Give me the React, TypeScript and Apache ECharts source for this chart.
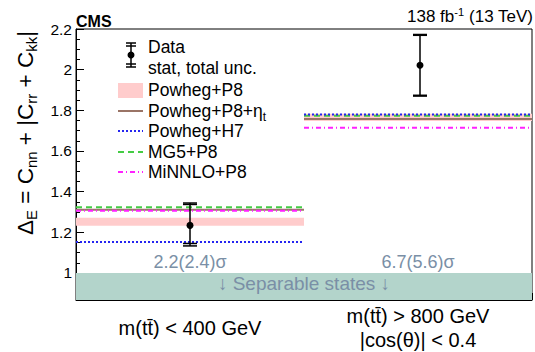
import React, { useEffect, useRef } from "react";
import * as echarts from "echarts";

const categories = ["m(tt\u0304) < 400 GeV", "m(tt\u0304) > 800 GeV\n|cos(θ)| < 0.4"];
const dataValues = [1.234, 2.022];
const statLow = [1.145, 1.874];
const statHigh = [1.337, 2.169];
const totalLow = [1.133, 1.87];
const totalHigh = [1.344, 2.173];
const powhegP8Low = [1.232, 1.747];
const powhegP8High = [1.272, 1.783];
const powhegP8Eta = [1.311, 1.757];
const powhegH7 = [1.152, 1.78];
const mg5P8 = [1.323, 1.773];
const minnloP8 = [1.306, 1.714];
const significance = ["2.2(2.4)σ", "6.7(5.6)σ"];
const significanceY = 1.054;
const separableThreshold = 1;
const separableLabelY = 0.946;
const yMin = 0.867;
const yMax = 2.2;
const yMajorTicks = [1, 1.2, 1.4, 1.6, 1.8, 2, 2.2];
const yMinorTicks = [0.9, 0.95, 1.05, 1.1, 1.15, 1.25, 1.3, 1.35, 1.45, 1.5, 1.55, 1.65, 1.7, 1.75, 1.85, 1.9, 1.95, 2.05, 2.1, 2.15];
const legendNames = ["Data", "stat, total unc.", "Powheg+P8", "Powheg+P8+{e|η}{s|t}", "Powheg+H7", "MG5+P8", "MiNNLO+P8"];

const FONT = "Liberation Sans, Arial, Helvetica, sans-serif";
const C_BAND = "#ffcccc";
const C_ETA = "#9a7466";
const C_H7 = "#2525f0";
const C_MG5 = "#44cc44";
const C_MIN = "#ff22ff";
const C_SEP = "#b3d4cb";
const C_SEPTXT = "#7a8fa6";

function modelLine(name: string, values: number[], color: string, dash: any, z: number) {
  return {
    type: "custom",
    name,
    z,
    data: values.map((v, i) => [i, v]),
    renderItem: (_p: any, api: any) => {
      const c = api.coord([api.value(0), api.value(1)]);
      const bw = api.size([1, 0])[0];
      return {
        type: "line",
        shape: { x1: c[0] - bw / 2, y1: c[1], x2: c[0] + bw / 2, y2: c[1] },
        style: { stroke: color, lineWidth: 2, lineDash: dash },
      };
    },
  };
}

export default function App() {
  const ref = useRef<HTMLDivElement>(null);
  useEffect(() => {
    if (!ref.current) return;
    const chart = echarts.init(ref.current, null, { renderer: "svg" });
    const legendX = 148;
    const rowsY = [47, 68, 90, 111, 131, 152, 172];
    const lx0 = 118;
    const lx1 = 143;
    const legendGraphics: any[] = [];
    legendNames.forEach((n, i) => {
      legendGraphics.push({
        type: "text",
        x: legendX,
        y: rowsY[i],
        style: {
          text: n,
          fontSize: 17.5,
          fontFamily: FONT,
          fill: "#000",
          verticalAlign: "middle",
          align: "left",
          rich: {
            e: { fontSize: 17.5, fontFamily: FONT },
            s: { fontSize: 12, fontFamily: FONT, padding: [11, 0, 0, 0] },
          },
        },
      });
    });
    legendGraphics.push(
      { type: "line", shape: { x1: 131, y1: 43, x2: 131, y2: 67 }, style: { stroke: "#000", lineWidth: 1.5 } },
      { type: "line", shape: { x1: 126, y1: 43, x2: 136, y2: 43 }, style: { stroke: "#000", lineWidth: 1.5 } },
      { type: "line", shape: { x1: 126, y1: 46, x2: 136, y2: 46 }, style: { stroke: "#000", lineWidth: 1.5 } },
      { type: "line", shape: { x1: 126, y1: 64, x2: 136, y2: 64 }, style: { stroke: "#000", lineWidth: 1.5 } },
      { type: "line", shape: { x1: 126, y1: 67, x2: 136, y2: 67 }, style: { stroke: "#000", lineWidth: 1.5 } },
      { type: "circle", shape: { cx: 131, cy: 55, r: 3.5 }, style: { fill: "#000" } },
      { type: "rect", shape: { x: lx0, y: 83, width: lx1 - lx0, height: 15 }, style: { fill: C_BAND } },
      { type: "line", shape: { x1: lx0, y1: 111, x2: lx1, y2: 111 }, style: { stroke: C_ETA, lineWidth: 2 } },
      { type: "line", shape: { x1: lx0, y1: 131, x2: lx1, y2: 131 }, style: { stroke: C_H7, lineWidth: 2, lineDash: [2, 2] } },
      { type: "line", shape: { x1: lx0, y1: 152, x2: lx1, y2: 152 }, style: { stroke: C_MG5, lineWidth: 2, lineDash: [6, 4] } },
      { type: "line", shape: { x1: lx0, y1: 172, x2: lx1, y2: 172 }, style: { stroke: C_MIN, lineWidth: 2, lineDash: [5, 3, 1, 3] } }
    );

    const option: any = {
      animation: false,
      backgroundColor: "#fff",
      grid: { left: 76, right: 3, top: 29, bottom: 52, show: true, borderColor: "#000", borderWidth: 1, backgroundColor: "transparent" },
      xAxis: {
        type: "category",
        data: categories,
        boundaryGap: true,
        axisLine: { show: true, lineStyle: { color: "#000", width: 1 } },
        axisTick: { show: true, inside: true, length: 7, lineStyle: { color: "#000" } },
        axisLabel: { color: "#000", fontSize: 20, fontFamily: FONT, margin: 28, verticalAlign: "middle", lineHeight: 24 },
        splitLine: { show: false },
      },
      yAxis: [
        {
          type: "value",
          min: yMin,
          max: yMax,
          axisLine: { show: true, lineStyle: { color: "#000" } },
          axisTick: { show: true, inside: true, length: 8, customValues: yMajorTicks, lineStyle: { color: "#000" } },
          axisLabel: { color: "#000", fontSize: 15.5, fontFamily: FONT, margin: 4, customValues: yMajorTicks },
          splitLine: { show: false },
        },
        {
          type: "value",
          min: yMin,
          max: yMax,
          position: "left",
          axisLine: { show: false },
          axisTick: { show: true, inside: true, length: 4, customValues: yMinorTicks, lineStyle: { color: "#000" } },
          axisLabel: { show: false },
          splitLine: { show: false },
        },
      ],
      series: [
        {
          type: "custom",
          name: "Separable states",
          z: 1,
          data: [[0, separableThreshold]],
          renderItem: (_p: any, api: any) => {
            const a = api.coord([0, api.value(1)]);
            const b = api.coord([1, yMin]);
            const bw = api.size([1, 0])[0];
            const x0 = a[0] - bw / 2;
            const lbl = api.coord([0, separableLabelY]);
            return {
              type: "group",
              children: [
                { type: "rect", shape: { x: x0, y: a[1], width: 2 * bw, height: b[1] - a[1] }, style: { fill: C_SEP } },
                {
                  type: "text",
                  x: (a[0] + b[0]) / 2,
                  y: lbl[1],
                  style: { text: "↓ Separable states ↓", fill: C_SEPTXT, fontSize: 19, fontFamily: FONT, align: "center", verticalAlign: "middle" },
                },
              ],
            };
          },
        },
        {
          type: "custom",
          name: "Powheg+P8",
          z: 2,
          data: powhegP8Low.map((v, i) => [i, v, powhegP8High[i]]),
          renderItem: (_p: any, api: any) => {
            const lo = api.coord([api.value(0), api.value(1)]);
            const hi = api.coord([api.value(0), api.value(2)]);
            const bw = api.size([1, 0])[0];
            return { type: "rect", shape: { x: lo[0] - bw / 2, y: hi[1], width: bw, height: lo[1] - hi[1] }, style: { fill: C_BAND } };
          },
        },
        modelLine("Powheg+P8+ηt", powhegP8Eta, C_ETA, "solid", 3),
        modelLine("MiNNLO+P8", minnloP8, C_MIN, [5, 3, 1, 3], 4),
        modelLine("MG5+P8", mg5P8, C_MG5, [6, 4], 5),
        modelLine("Powheg+H7", powhegH7, C_H7, [2, 2], 6),
        {
          type: "custom",
          name: "Significance",
          z: 7,
          data: significance.map((s, i) => [i, significanceY, s]),
          renderItem: (_p: any, api: any) => {
            const c = api.coord([api.value(0), api.value(1)]);
            return {
              type: "text",
              x: c[0],
              y: c[1],
              style: { text: significance[_p.dataIndex], fill: C_SEPTXT, fontSize: 18, fontFamily: FONT, align: "center", verticalAlign: "middle" },
            };
          },
        },
        {
          type: "custom",
          name: "Data",
          z: 10,
          data: dataValues.map((v, i) => [i, v, statLow[i], statHigh[i], totalLow[i], totalHigh[i]]),
          renderItem: (_p: any, api: any) => {
            const i = api.value(0);
            const c = api.coord([i, api.value(1)]);
            const sl = api.coord([i, api.value(2)]);
            const sh = api.coord([i, api.value(3)]);
            const tl = api.coord([i, api.value(4)]);
            const th = api.coord([i, api.value(5)]);
            const x = c[0] + (i === 1 ? 2 : 0);
            const w = 7;
            const st = { stroke: "#000", lineWidth: 1.5 };
            return {
              type: "group",
              children: [
                { type: "line", shape: { x1: x, y1: th[1], x2: x, y2: tl[1] }, style: st },
                { type: "line", shape: { x1: x - w, y1: th[1], x2: x + w, y2: th[1] }, style: st },
                { type: "line", shape: { x1: x - w, y1: tl[1], x2: x + w, y2: tl[1] }, style: st },
                { type: "line", shape: { x1: x - w, y1: sh[1], x2: x + w, y2: sh[1] }, style: st },
                { type: "line", shape: { x1: x - w, y1: sl[1], x2: x + w, y2: sl[1] }, style: st },
                { type: "circle", shape: { cx: x, cy: c[1], r: 3.5 }, style: { fill: "#000" } },
              ],
            };
          },
        },
      ],
      graphic: [
        {
          type: "text",
          x: 76,
          y: 21,
          style: { text: "CMS", fontSize: 16, fontWeight: "bold", fontFamily: FONT, fill: "#000", verticalAlign: "middle", align: "left" },
        },
        {
          type: "text",
          x: 533,
          y: 16,
          style: {
            text: "138 fb{sup|-1} (13 TeV)",
            fontSize: 17,
            fontFamily: FONT,
            fill: "#000",
            align: "right",
            verticalAlign: "middle",
            rich: { sup: { fontSize: 11, fontFamily: FONT, padding: [0, 0, 9, 0] } },
          },
        },
        {
          type: "text",
          x: 25,
          y: 133,
          rotation: Math.PI / 2,
          style: {
            text: "Δ{s|E} = C{s|nn} + |C{s|rr} + C{s|kk}|",
            fontSize: 22.5,
            fontFamily: FONT,
            fill: "#000",
            align: "center",
            verticalAlign: "middle",
            rich: { s: { fontSize: 15, fontFamily: FONT, padding: [12, 0, 0, 0] } },
          },
        },
        ...legendGraphics,
      ],
    };
    chart.setOption(option);
    return () => chart.dispose();
  }, []);
  return <div ref={ref} style={{ position: "absolute", left: 0, top: 0, width: 535, height: 352 }} />;
}
